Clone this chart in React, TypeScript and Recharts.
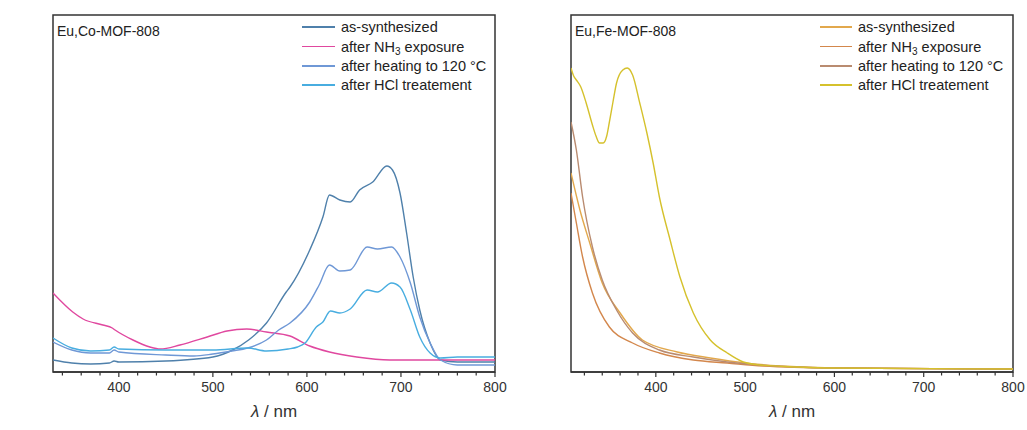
import React from "react";
import { LineChart, Line, XAxis, YAxis, ReferenceArea } from "recharts";

// ---------- Eu,Co-MOF-808 (wavelength nm / absorbance a.u.) ----------
const coAsSynX = [330, 350, 370, 390, 395, 400, 450, 500, 521, 538, 557, 578, 582, 603, 617, 624, 635, 646, 656, 670, 685, 691, 699, 706, 713, 720, 731, 742, 760, 800];
const coAsSynY = [12, 9, 8, 9, 11, 10, 11, 15, 22, 32, 49, 80, 85, 122, 155, 177, 172, 170, 182, 190, 206, 202, 179, 139, 95, 62, 29, 12, 10, 10];

const coNH3X = [330, 351, 362, 383, 393, 396, 415, 433, 444, 465, 494, 515, 536, 557, 582, 603, 624, 653, 688, 800];
const coNH3Y = [79, 60, 53, 47, 44, 42, 32, 25, 23, 27, 35, 41, 43, 40, 36, 26, 20, 15, 12, 12];

const coHeatX = [330, 350, 370, 390, 395, 400, 450, 480, 500, 520, 537, 557, 570, 582, 603, 613, 624, 635, 646, 664, 675, 690, 699, 710, 720, 731, 742, 760, 800];
const coHeatY = [30, 22, 19, 19, 22, 20, 17, 16, 18, 21, 24, 32, 42, 49, 70, 87, 107, 101, 102, 125, 123, 125, 115, 89, 55, 29, 12, 7, 7];

const coHClX = [330, 350, 370, 390, 395, 400, 450, 500, 537, 557, 580, 590, 598, 610, 617, 625, 635, 646, 664, 675, 690, 699, 710, 720, 731, 742, 760, 800];
const coHClY = [34, 24, 21, 22, 25, 23, 22, 22, 24, 21, 23, 25, 29, 45, 50, 61, 59, 63, 82, 80, 89, 85, 62, 35, 19, 14, 15, 15];

// ---------- Eu,Fe-MOF-808 ----------
const feAsSynX = [305, 315, 326, 340, 360, 385, 424, 461, 500, 540, 600, 800];
const feAsSynY = [199, 162, 129, 89, 59, 32, 20, 14, 9, 6, 4, 3];

const feNH3X = [305, 311, 318, 329, 348, 374, 404, 442, 480, 520, 600, 800];
const feNH3Y = [179, 149, 115, 79, 45, 29, 19, 12, 9, 6, 4, 3];

const feHeatX = [305, 311, 318, 329, 340, 356, 374, 404, 442, 480, 517, 560, 600, 800];
const feHeatY = [250, 222, 175, 125, 92, 62, 39, 22, 15, 10, 7, 5, 4, 3];

const feHClX = [305, 308, 311, 316, 322, 329, 333, 337, 341, 345, 348, 352, 356, 363, 368, 374, 382, 390, 397, 404, 416, 427, 442, 461, 480, 498, 517, 560, 600, 800];
const feHClY = [304, 296, 292, 285, 269, 247, 236, 229, 229, 236, 250, 270, 289, 302, 304, 297, 269, 239, 209, 175, 132, 95, 59, 32, 19, 10, 7, 5, 4, 3];

// ---------- labels / ticks ----------
const seriesNames = ["as-synthesized", "after NH3 exposure", "after heating to 120 °C", "after HCl treatement"];
const coColors = ["#4f80ab", "#e0489f", "#6f98d6", "#48ade0"];
const feColors = ["#e2a84c", "#d3874c", "#b98b70", "#d5c12c"];
const coTicks = [340, 360, 380, 400, 420, 440, 460, 480, 500, 520, 540, 560, 580, 600, 620, 640, 660, 680, 700, 720, 740, 760, 780, 800];
const feTicks = [320, 340, 360, 380, 400, 420, 440, 460, 480, 500, 520, 540, 560, 580, 600, 620, 640, 660, 680, 700, 720, 740, 760, 780, 800];
const coTitle = "Eu,Co-MOF-808";
const feTitle = "Eu,Fe-MOF-808";
const yDomain: [number, number] = [0, 357];

const zip = (xs: number[], ys: number[]) => xs.map((x, i) => ({ x, y: ys[i] }));

const FONT = "'Liberation Sans', Arial, Helvetica, sans-serif";
const AX = "#333";

const Tick = (props: any) => {
  const { x, y, payload } = props;
  const v = payload.value;
  const major = v % 100 === 0;
  return (
    <g>
      <line x1={x} x2={x} y1={y} y2={y + (major ? 5 : 3.5)} stroke={AX} strokeWidth={1.2} />
      {major && (
        <text x={x} y={y + 20} textAnchor="middle" fontSize={14} fill="#333" fontFamily={FONT}>
          {v}
        </text>
      )}
    </g>
  );
};

const XLabel = (props: any) => {
  const { viewBox } = props;
  const cx = viewBox.x + viewBox.width / 2;
  return (
    <text x={cx} y={viewBox.y + 45} textAnchor="middle" fontSize={17} fill="#333" fontFamily={FONT}>
      <tspan fontStyle="italic">λ</tspan>
      <tspan> / nm</tspan>
    </text>
  );
};

const YLabel = (props: any) => {
  const { viewBox } = props;
  const cx = viewBox.x - 29;
  const cy = viewBox.y + viewBox.height / 2;
  return (
    <text x={cx} y={cy} transform={`rotate(-90 ${cx} ${cy})`} textAnchor="middle" fontSize={17} fill="#333" fontFamily={FONT}>
      <tspan fontStyle="italic">Abs</tspan>
      <tspan> / a.u.</tspan>
    </text>
  );
};

type PanelProps = {
  left: number;
  marginLeft: number;
  marginRight: number;
  domain: [number, number];
  ticks: number[];
  series: { x: number; y: number }[][];
  colors: string[];
  title: string;
  legendLineX: number;
  legendTextX: number;
};

const Panel = (p: PanelProps) => {
  const W = 515;
  const H = 430;
  const rows = [27, 46.5, 66, 85];
  return (
    <div style={{ position: "absolute", left: p.left, top: 0, width: W, height: H }}>
      <LineChart width={W} height={H} margin={{ top: 15, right: p.marginRight, bottom: 28, left: p.marginLeft }}>
        <XAxis
          type="number"
          dataKey="x"
          domain={p.domain}
          allowDataOverflow
          ticks={p.ticks}
          interval={0}
          tick={<Tick />}
          tickLine={false}
          tickSize={0}
          tickMargin={0}
          height={30}
          axisLine={{ stroke: AX, strokeWidth: 1.5 }}
          label={<XLabel />}
        />
        <YAxis
          type="number"
          domain={yDomain}
          allowDataOverflow
          tick={false}
          tickLine={false}
          width={0}
          axisLine={false}
          label={<YLabel />}
        />
        {p.series.map((d, i) => (
          <Line
            key={i}
            data={d}
            dataKey="y"
            type="monotone"
            stroke={p.colors[i]}
            strokeWidth={1.4}
            dot={false}
            activeDot={false}
            isAnimationActive={false}
          />
        ))}
        <ReferenceArea
          x1={p.domain[0]}
          x2={p.domain[1]}
          y1={yDomain[0]}
          y2={yDomain[1]}
          fill="none"
          fillOpacity={0}
          stroke={AX}
          strokeWidth={1.5}
          ifOverflow="visible"
        />
      </LineChart>
      <div
        style={{
          position: "absolute",
          left: p.marginLeft + 4,
          top: 22,
          fontFamily: FONT,
          fontSize: 14,
          color: "#222",
          lineHeight: "18px",
          whiteSpace: "nowrap",
        }}
      >
        {p.title}
      </div>
      {seriesNames.map((name, i) => (
        <div
          key={name}
          style={{
            position: "absolute",
            left: p.legendLineX,
            top: rows[i] - 9,
            height: 18,
            display: "flex",
            alignItems: "center",
            fontFamily: FONT,
            fontSize: 14.5,
            color: "#222",
            whiteSpace: "nowrap",
          }}
        >
          <div style={{ width: p.legendTextX - p.legendLineX - 6, height: 1.5, background: p.colors[i], marginRight: 6 }} />
          {i === 1 ? (
            <span>
              after NH<sub style={{ fontSize: 10, lineHeight: 0, verticalAlign: "-3px" }}>3</sub> exposure
            </span>
          ) : (
            <span>{name}</span>
          )}
        </div>
      ))}
    </div>
  );
};

export default function App() {
  return (
    <div style={{ position: "absolute", left: 0, top: 0, width: 1027, height: 430, background: "#fff" }}>
      <Panel
        left={0}
        marginLeft={53}
        marginRight={20}
        domain={[330, 800]}
        ticks={coTicks}
        series={[zip(coAsSynX, coAsSynY), zip(coNH3X, coNH3Y), zip(coHeatX, coHeatY), zip(coHClX, coHClY)]}
        colors={coColors}
        title={coTitle}
        legendLineX={302}
        legendTextX={341}
      />
      <Panel
        left={512}
        marginLeft={59}
        marginRight={14}
        domain={[305, 800]}
        ticks={feTicks}
        series={[zip(feAsSynX, feAsSynY), zip(feNH3X, feNH3Y), zip(feHeatX, feHeatY), zip(feHClX, feHClY)]}
        colors={feColors}
        title={feTitle}
        legendLineX={820 - 512}
        legendTextX={858 - 512}
      />
    </div>
  );
}
